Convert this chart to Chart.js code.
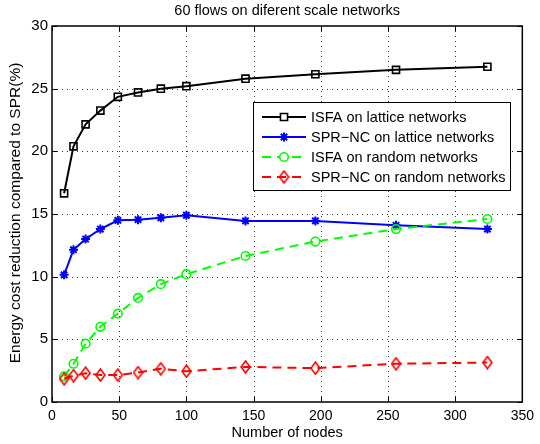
<!DOCTYPE html>
<html>
<head>
<meta charset="utf-8">
<script src="https://cdn.jsdelivr.net/npm/chart.js@4.4.0/dist/chart.umd.min.js"></script>
<style>
  html, body { margin: 0; padding: 0; background: #fff; }
  #wrap { width: 540px; height: 444px; }
</style>
</head>
<body>
<div id="wrap"><canvas id="grafico"></canvas></div>
<script>
// dados
const nodes = [9, 16, 25, 36, 49, 64, 81, 100, 144, 196, 256, 324];
const isfaLattice = [16.65, 20.4, 22.15, 23.25, 24.35, 24.7, 25.0, 25.2, 25.8, 26.15, 26.5, 26.75];
const sprLattice = [10.15, 12.15, 13.0, 13.8, 14.5, 14.55, 14.7, 14.9, 14.45, 14.45, 14.1, 13.8];
const isfaRandom = [2.05, 3.05, 4.65, 6.0, 7.05, 8.3, 9.4, 10.2, 11.65, 12.8, 13.8, 14.6];
const sprRandom = [1.85, 2.1, 2.3, 2.15, 2.15, 2.35, 2.65, 2.45, 2.8, 2.7, 3.05, 3.15];
const seriesNames = [
  'ISFA on lattice networks',
  'SPR\u2212NC on lattice networks',
  'ISFA on random networks',
  'SPR\u2212NC on random networks'
];
const xTicks = [0, 50, 100, 150, 200, 250, 300, 350];
const yTicks = [0, 5, 10, 15, 20, 25, 30];

const FONT = '"Liberation Sans", Arial, Helvetica, sans-serif';

// losango mais alto que largo, estilo matlab
const diamond = document.createElement('canvas');
diamond.width = 11; diamond.height = 14;
(() => {
  const c = diamond.getContext('2d');
  c.strokeStyle = '#ff0000';
  c.lineWidth = 1.6;
  c.beginPath();
  c.moveTo(5.5, 1); c.lineTo(10, 7); c.lineTo(5.5, 13); c.lineTo(1, 7);
  c.closePath();
  c.stroke();
})();

const pts = arr => arr.map((v, i) => ({ x: nodes[i], y: v }));

const base = {
  showLine: true,
  tension: 0,
  borderWidth: 2,
  pointBackgroundColor: 'rgba(0,0,0,0)',
  pointBorderWidth: 1.6
};

const datasets = [
  { ...base, label: seriesNames[0], data: pts(isfaLattice), borderColor: '#000', pointBorderColor: '#000', pointStyle: 'rect', pointRadius: 5 },
  { ...base, label: seriesNames[1], data: pts(sprLattice), borderColor: '#0000ff', pointBorderColor: '#0000ff', pointStyle: 'star', pointRadius: 4.5, pointBorderWidth: 2 },
  { ...base, label: seriesNames[2], data: pts(isfaRandom), borderColor: '#00ff00', pointBorderColor: '#00ff00', pointStyle: 'circle', pointRadius: 4.3, borderDash: [9, 6] },
  { ...base, label: seriesNames[3], data: pts(sprRandom), borderColor: '#ff0000', pointBorderColor: '#ff0000', pointStyle: diamond, pointRadius: 5, borderDash: [9, 6] }
];
datasets.forEach((d, i) => d.order = datasets.length - i);

// grade pontilhada
const grade = {
  id: 'grade',
  beforeDatasetsDraw(chart) {
    const { ctx, chartArea: a, scales: { x, y } } = chart;
    ctx.save();
    ctx.strokeStyle = '#333';
    ctx.lineWidth = 1;
    ctx.setLineDash([1, 4]);
    xTicks.slice(1, -1).forEach(v => {
      const px = Math.round(x.getPixelForValue(v)) + 0.5;
      ctx.beginPath(); ctx.moveTo(px, a.bottom); ctx.lineTo(px, a.top); ctx.stroke();
    });
    yTicks.slice(1, -1).forEach(v => {
      const py = Math.round(y.getPixelForValue(v)) + 0.5;
      ctx.beginPath(); ctx.moveTo(a.left, py); ctx.lineTo(a.right, py); ctx.stroke();
    });
    // marcas para dentro
    ctx.setLineDash([]);
    ctx.strokeStyle = '#000';
    xTicks.forEach(v => {
      const px = Math.round(x.getPixelForValue(v)) + 0.5;
      ctx.beginPath();
      ctx.moveTo(px, a.bottom); ctx.lineTo(px, a.bottom - 5);
      ctx.moveTo(px, a.top); ctx.lineTo(px, a.top + 5);
      ctx.stroke();
    });
    yTicks.forEach(v => {
      const py = Math.round(y.getPixelForValue(v)) + 0.5;
      ctx.beginPath();
      ctx.moveTo(a.left, py); ctx.lineTo(a.left + 5, py);
      ctx.moveTo(a.right, py); ctx.lineTo(a.right - 5, py);
      ctx.stroke();
    });
    ctx.restore();
  }
};

const moldura = {
  id: 'moldura',
  afterDraw(chart) {
    const { ctx, chartArea: a } = chart;
    ctx.save();
    // borda da área
    ctx.strokeStyle = '#000';
    ctx.lineWidth = 1.5;
    ctx.setLineDash([]);
    ctx.strokeRect(a.left, a.top, a.right - a.left, a.bottom - a.top);

    ctx.fillStyle = '#000';
    ctx.textAlign = 'center';
    ctx.textBaseline = 'middle';
    ctx.font = '14.5px ' + FONT;
    ctx.fillText('60 flows on diferent scale networks', (a.left + a.right) / 2, 11);
    ctx.fillText('Number of nodes', (a.left + a.right) / 2, 433);
    ctx.save();
    ctx.translate(16, 213);
    ctx.rotate(-Math.PI / 2);
    ctx.font = '15.5px ' + FONT;
    ctx.fillText('Energy cost reduction compared to SPR(%)', 0, 0);
    ctx.restore();

    // legenda
    const lx = 253, ly = 102, lw = 257, lh = 88;
    ctx.fillStyle = '#fff';
    ctx.fillRect(lx, ly, lw, lh);
    ctx.strokeStyle = '#000';
    ctx.lineWidth = 1;
    ctx.strokeRect(lx + 0.5, ly + 0.5, lw, lh);
    const rows = [117, 137, 157, 177];
    chart.data.datasets.forEach((d, i) => {
      const y = rows[i];
      ctx.strokeStyle = d.borderColor;
      ctx.lineWidth = 2;
      ctx.setLineDash(d.borderDash || []);
      ctx.beginPath();
      ctx.moveTo(262, y); ctx.lineTo(306, y);
      ctx.stroke();
      ctx.setLineDash([]);
      ctx.fillStyle = '#fff';
      ctx.strokeStyle = d.pointBorderColor;
      ctx.lineWidth = d.pointBorderWidth;
      Chart.helpers.drawPoint(ctx, { pointStyle: d.pointStyle, radius: d.pointRadius, borderWidth: d.pointBorderWidth, rotation: 0 }, 284, y);
      ctx.fillStyle = '#000';
      ctx.textAlign = 'left';
      ctx.font = '14.5px ' + FONT;
      ctx.fillText(d.label, 311, y + 0.5);
    });
    ctx.restore();
  }
};

new Chart(document.getElementById('grafico'), {
  type: 'scatter',
  data: { datasets },
  plugins: [grade, moldura],
  options: {
    responsive: true,
    maintainAspectRatio: false,
    animation: false,
    layout: { padding: { top: 26, right: 12, left: 0, bottom: 0 } },
    plugins: {
      legend: { display: false },
      tooltip: { enabled: false }
    },
    scales: {
      x: {
        type: 'linear',
        min: 0, max: 350,
        afterFit: s => { s.height = 42; },
        afterBuildTicks: s => { s.ticks = xTicks.map(v => ({ value: v })); },
        grid: { display: false, drawTicks: false },
        border: { display: false },
        ticks: { color: '#000', padding: 6, maxRotation: 0, font: { family: FONT, size: 14 } }
      },
      y: {
        min: 0, max: 30,
        afterFit: s => { s.width = 52; },
        afterBuildTicks: s => { s.ticks = yTicks.map(v => ({ value: v })); },
        grid: { display: false, drawTicks: false },
        border: { display: false },
        ticks: { color: '#000', padding: 4, font: { family: FONT, size: 15 } }
      }
    }
  }
});
</script>
</body>
</html>
